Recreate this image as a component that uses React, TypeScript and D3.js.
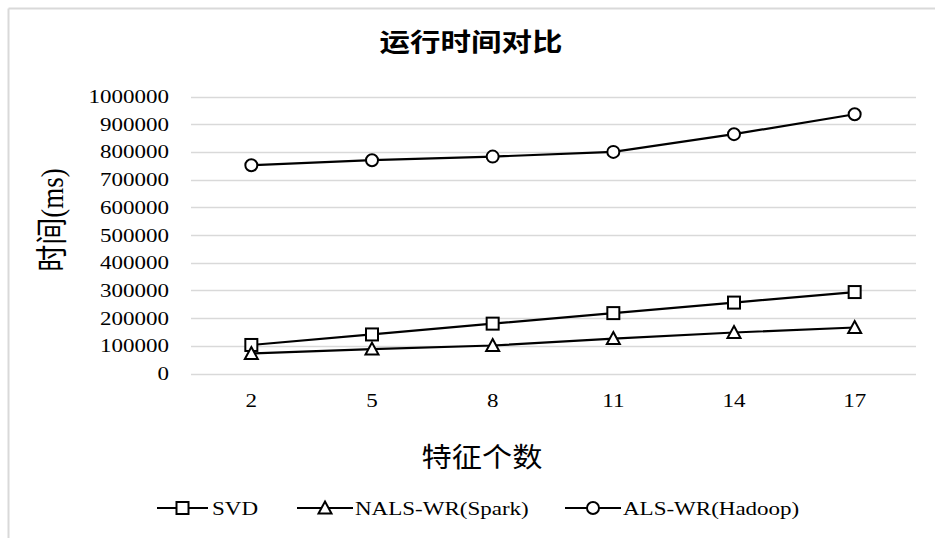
import React from "react";
import * as d3 from "d3";

const categories = ["2", "5", "8", "11", "14", "17"];
const svdValues = [103000, 141000, 180000, 218000, 256000, 294000];
const nalsValues = [72000, 88000, 101000, 126000, 148000, 166000];
const hadoopValues = [752000, 770000, 783000, 800000, 864000, 936000];
const yTicks = [0, 100000, 200000, 300000, 400000, 500000, 600000, 700000, 800000, 900000, 1000000];
const seriesNames = ["SVD", "NALS-WR(Spark)", "ALS-WR(Hadoop)"];
const markerTypes = ["square", "triangle", "circle"];
const title = "运行时间对比";
const xTitle = "特征个数";
const yTitle = "时间(ms)";

const W = 935;
const H = 538;
const SERIF = "'Liberation Serif', 'Times New Roman', 'Noto Sans CJK SC', serif";
const CJK = "'Noto Sans CJK SC', sans-serif";
const SX = 1.18;

function Marker({ type, x, y }: { type: string; x: number; y: number }) {
  const common = { fill: "#fff", stroke: "#000", strokeWidth: 2 };
  if (type === "square") return <rect x={x - 6} y={y - 6} width={12} height={12} {...common} />;
  if (type === "circle") return <circle cx={x} cy={y} r={6} {...common} />;
  const p = d3.path();
  p.moveTo(x, y - 6.5);
  p.lineTo(x + 6.5, y + 5.5);
  p.lineTo(x - 6.5, y + 5.5);
  p.closePath();
  return <path d={p.toString()} {...common} />;
}

export default function App() {
  const x = d3.scaleBand<string>().domain(categories).range([191, 915]);
  const y = d3.scaleLinear().domain([0, 1000000]).range([373.5, 96.5]);
  const cx = (c: string) => (x(c) as number) + x.bandwidth() / 2;
  const series = [svdValues, nalsValues, hadoopValues];
  const line = d3
    .line<number>()
    .x((_, i) => cx(categories[i]))
    .y((d) => y(d));

  const legendItems = [
    { lineX0: 157, lineX1: 208, textX: 212 },
    { lineX0: 297, lineX1: 353, textX: 355 },
    { lineX0: 565, lineX1: 621, textX: 623 },
  ];
  const legendY = 508;

  return (
    <svg
      width={W}
      height={H}
      style={{ position: "absolute", left: 0, top: 0, background: "#fff" }}
    >
      <rect x={0} y={0} width={W} height={H} fill="#fff" />
      <line x1={8.5} y1={8.5} x2={W} y2={8.5} stroke="#d9d9d9" strokeWidth={2} />
      <line x1={8.5} y1={8.5} x2={8.5} y2={H} stroke="#d9d9d9" strokeWidth={2} />

      {/* title */}
      <text
        transform={`translate(471,51) scale(1.22,1)`}
        textAnchor="middle"
        fontFamily={CJK}
        fontSize={25}
        fontWeight="bold"
        fill="#000"
      >
        {title}
      </text>

      {/* gridlines */}
      {yTicks.map((t) => (
        <line
          key={t}
          x1={191}
          x2={916}
          y1={Math.round(y(t)) + 0.5}
          y2={Math.round(y(t)) + 0.5}
          stroke="#d9d9d9"
          strokeWidth={1.3}
        />
      ))}

      {/* y tick labels */}
      {yTicks.map((t) => (
        <text
          key={"l" + t}
          transform={`translate(169,${y(t) + 6.5}) scale(${SX},1)`}
          textAnchor="end"
          fontFamily={SERIF}
          fontSize={19.5}
          fill="#000"
        >
          {t}
        </text>
      ))}

      {/* x tick labels */}
      {categories.map((c) => (
        <text
          key={c}
          transform={`translate(${cx(c)},406.5) scale(${SX},1)`}
          textAnchor="middle"
          fontFamily={SERIF}
          fontSize={19.5}
          fill="#000"
        >
          {c}
        </text>
      ))}

      {/* axis titles */}
      <text
        transform={`translate(482,467) scale(1.12,1)`}
        textAnchor="middle"
        fontFamily={CJK}
        fontSize={27}
        fill="#000"
      >
        {xTitle}
      </text>
      <text
        transform={`translate(52,220) rotate(-90) scale(1,${SX})`}
        textAnchor="middle"
        dominantBaseline="central"
        fontFamily={SERIF}
        fontSize={27}
        fill="#000"
      >
        {yTitle}
      </text>

      {/* lines */}
      {series.map((vals, si) => (
        <path key={"s" + si} d={line(vals) as string} fill="none" stroke="#000" strokeWidth={2.2} />
      ))}
      {series.map((vals, si) =>
        vals.map((v, i) => (
          <Marker key={`m${si}-${i}`} type={markerTypes[si]} x={cx(categories[i])} y={y(v)} />
        ))
      )}

      {/* legend */}
      {legendItems.map((it, i) => (
        <g key={"lg" + i}>
          <line x1={it.lineX0} x2={it.lineX1} y1={legendY} y2={legendY} stroke="#000" strokeWidth={2.2} />
          <Marker type={markerTypes[i]} x={(it.lineX0 + it.lineX1) / 2} y={legendY} />
          <text
            transform={`translate(${it.textX},${legendY + 7}) scale(${SX},1)`}
            fontFamily={SERIF}
            fontSize={19.5}
            fill="#000"
          >
            {seriesNames[i]}
          </text>
        </g>
      ))}
    </svg>
  );
}
